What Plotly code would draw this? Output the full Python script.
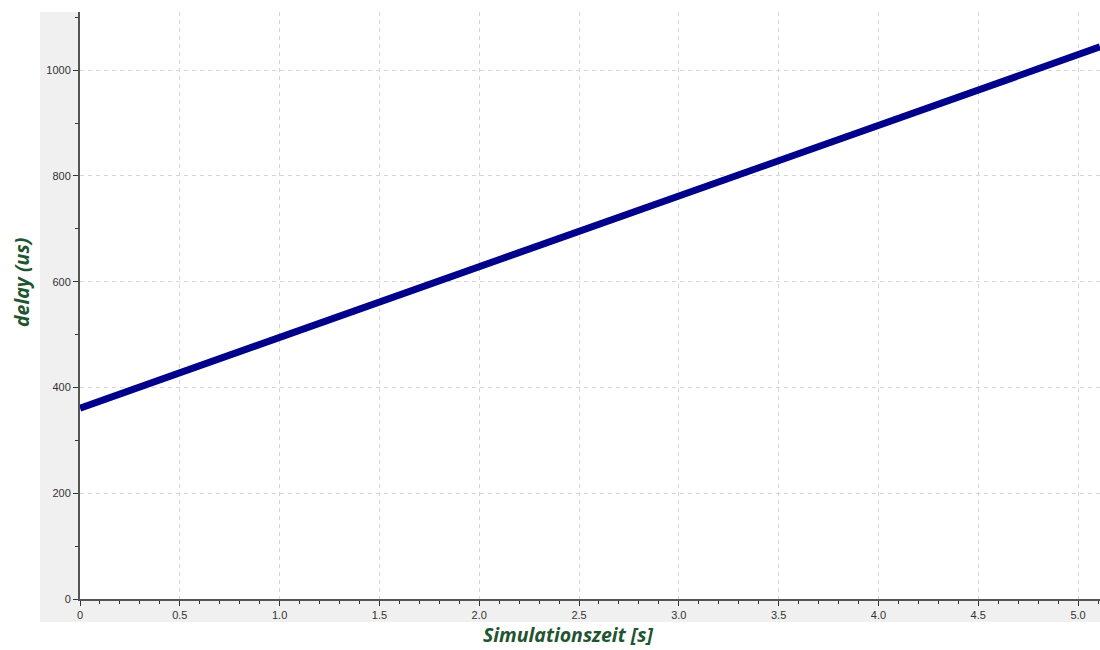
import plotly.graph_objects as go

time_s = [0.0, 1.0, 2.0, 3.0, 4.0, 5.0, 5.11]
delay_us = [361, 495, 628, 762, 896, 1030, 1044]

x_ticks = [0, 0.5, 1.0, 1.5, 2.0, 2.5, 3.0, 3.5, 4.0, 4.5, 5.0]
x_tick_text = ["0", "0.5", "1.0", "1.5", "2.0", "2.5", "3.0", "3.5", "4.0", "4.5", "5.0"]
y_ticks = [0, 200, 400, 600, 800, 1000]

title_font = dict(family="Open Sans", size=19.5, color="#1f5530")

FW, FH = 1100, 650
L, R, T, B = 80, 0, 12, 650 - 599
W, H = FW - L - R, FH - T - B

def px_x(page_x):
    return (page_x - L) / W

def px_y(page_y):
    return (FH - B - page_y) / H

fig = go.Figure()
fig.add_trace(go.Scatter(x=time_s, y=delay_us, mode="lines",
                         line=dict(color="#00008b", width=7), showlegend=False))

grid = dict(showgrid=True, gridcolor="#d6d6d6", griddash="4px,4px", gridwidth=1)

fig.update_layout(
    width=FW, height=FH,
    margin=dict(l=L, r=R, t=T, b=B, autoexpand=False),
    paper_bgcolor="white", plot_bgcolor="white",
    xaxis=dict(range=[0, 5.11], tickvals=x_ticks, ticktext=x_tick_text,
               showline=True, linecolor="#555", linewidth=2,
               ticks="outside", ticklen=5, tickcolor="#333",
               minor=dict(dtick=0.1, ticks="outside", ticklen=3, tickcolor="#333", showgrid=False),
               tickfont=dict(family="Liberation Sans", size=11, color="#333"),
               zeroline=False, **grid),
    yaxis=dict(range=[0, 1110], tickvals=y_ticks,
               showline=True, linecolor="#555", linewidth=2,
               ticks="outside", ticklen=5, tickcolor="#333",
               minor=dict(dtick=100, ticks="outside", ticklen=3, tickcolor="#333", showgrid=False),
               tickfont=dict(family="Liberation Sans", size=11, color="#333"),
               zeroline=False, **grid),
    shapes=[
        dict(type="rect", xref="paper", yref="paper",
             x0=px_x(40), x1=1, y0=px_y(622), y1=1,
             fillcolor="#f0f0f0", line=dict(width=0), layer="below"),
        dict(type="rect", xref="paper", yref="paper",
             x0=0, x1=1, y0=0, y1=1,
             fillcolor="white", line=dict(width=0), layer="below"),
    ],
    annotations=[
        dict(text="<b><i>Simulationszeit [s]</i></b>", xref="paper", yref="paper",
             x=px_x(568), y=px_y(634), xanchor="center", yanchor="middle",
             showarrow=False, font=title_font),
        dict(text="<b><i>delay (us)</i></b>", xref="paper", yref="paper",
             x=px_x(21), y=px_y(283), xanchor="center", yanchor="middle",
             textangle=-90, showarrow=False, font=title_font),
    ],
)

fig.write_html(
    "out.html",
    config={"displayModeBar": False},
    post_script="document.body.style.margin='0';document.body.style.overflow='hidden';",
)
